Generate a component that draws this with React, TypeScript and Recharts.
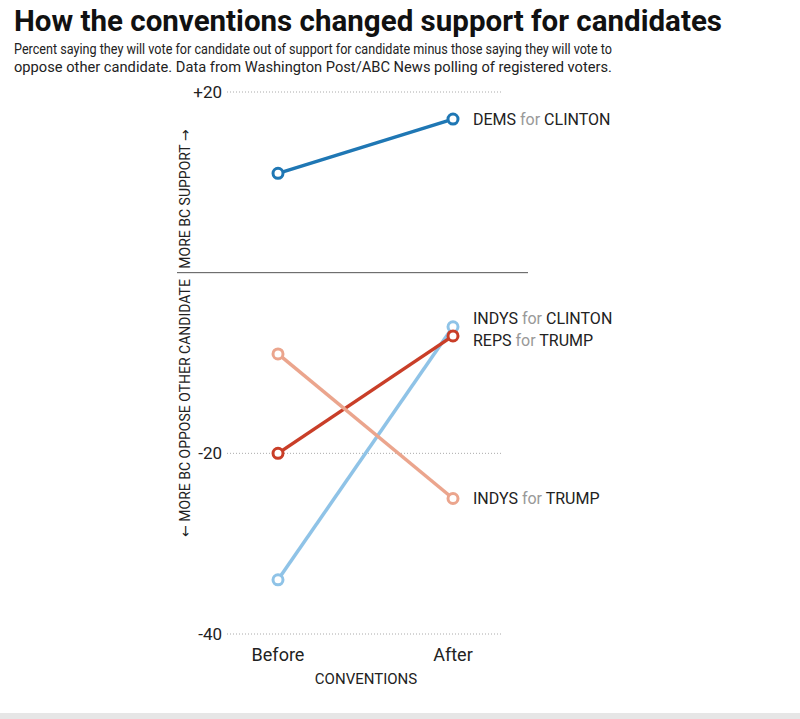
import { LineChart, Line, XAxis, YAxis, CartesianGrid, ReferenceLine, LabelList, Customized } from "recharts";

const phases = ["Before", "After"];
const demsClinton = [11, 17];
const indysClinton = [-34, -6];
const repsTrump = [-20, -7];
const indysTrump = [-9, -25];
const yTicks = [20, -20, -40];

const series = [
  { key: "demsClinton", values: demsClinton, group: "DEMS", cand: "CLINTON", color: "#1f77b4", dy: 0 },
  { key: "indysClinton", values: indysClinton, group: "INDYS", cand: "CLINTON", color: "#8fc3e7", dy: -8 },
  { key: "repsTrump", values: repsTrump, group: "REPS", cand: "TRUMP", color: "#c93e28", dy: 4 },
  { key: "indysTrump", values: indysTrump, group: "INDYS", cand: "TRUMP", color: "#eba58d", dy: 0 },
];

const rows = phases.map((p, i) => {
  const r: any = { phase: p };
  series.forEach((s) => (r[s.key] = s.values[i]));
  return r;
});

const chartFont = "Roboto, 'Noto Sans', sans-serif";
const arrowFont = "'DejaVu Sans', sans-serif";

const endLabel = (s: any) => (props: any) => {
  if (props.index !== 1) return null;
  return (
    <text x={props.x + 20} y={props.y + s.dy} dy="0.35em" fontSize={16} fontFamily={chartFont} fill="#222">
      {s.group}
      <tspan fill="#999"> for </tspan>
      {s.cand}
    </text>
  );
};

// rotated labels along the left edge
const SideLabels = () => (
  <g fontFamily={chartFont} fontSize={14} fill="#222">
    <text x={190} y={199} transform="rotate(-90 190 199)" textAnchor="middle">
      MORE BC SUPPORT <tspan fontFamily={arrowFont}>→</tspan>
    </text>
    <text x={190} y={408} transform="rotate(-90 190 408)" textAnchor="middle">
      <tspan fontFamily={arrowFont}>←</tspan> MORE BC OPPOSE OTHER CANDIDATE
    </text>
  </g>
);

export default function App() {
  return (
    <div style={{ position: "absolute", left: 0, top: 0, width: 800, height: 719, background: "#fff", overflow: "hidden" }}>
      <svg width={800} height={80} style={{ position: "absolute", left: 0, top: 0 }}>
        <text x={14} y={31} fontFamily={chartFont} fontWeight={700} fontSize={30} fill="#111" textLength={708} lengthAdjust="spacingAndGlyphs">
          How the conventions changed support for candidates
        </text>
        <g fontFamily={chartFont} fontSize={14} fill="#222">
          <text x={14} y={54} textLength={598} lengthAdjust="spacingAndGlyphs">
            Percent saying they will vote for candidate out of support for candidate minus those saying they will vote to
          </text>
          <text x={14} y={72} textLength={598} lengthAdjust="spacingAndGlyphs">
            oppose other candidate. Data from Washington Post/ABC News polling of registered voters.
          </text>
        </g>
      </svg>
      <div style={{ position: "absolute", left: 0, top: 0 }}>
        <LineChart width={800} height={719} data={rows} margin={{ top: 92, right: 297, bottom: 55, left: 177 }}>
          <CartesianGrid vertical={false} stroke="#aaa" strokeDasharray="1 2" />
          <XAxis
            dataKey="phase"
            padding={{ left: 51, right: 50 }}
            axisLine={false}
            tickLine={false}
            tickSize={0}
            tickMargin={14}
            height={30}
            tick={{ fontSize: 18, fill: "#222", fontFamily: chartFont }}
          />
          <YAxis
            type="number"
            domain={[-40, 20]}
            ticks={yTicks}
            width={50}
            axisLine={false}
            tickLine={false}
            tickSize={0}
            tickMargin={5}
            tickFormatter={(v: number) => (v > 0 ? `+${v}` : `${v}`)}
            tick={{ fontSize: 17, fill: "#222", fontFamily: chartFont }}
          />
          <ReferenceLine
            y={0}
            stroke="#555"
            shape={(p: any) => <line x1={p.x1 - 50} x2={p.x2 + 25} y1={p.y1} y2={p.y2} stroke="#555" strokeWidth={1} />}
          />
          {series.map((s) => (
            <Line
              key={s.key}
              dataKey={s.key}
              stroke={s.color}
              strokeWidth={3.5}
              dot={{ r: 5, fill: "#fff", stroke: s.color, strokeWidth: 3 }}
              isAnimationActive={false}
            >
              <LabelList dataKey={s.key} content={endLabel(s)} />
            </Line>
          ))}
          <Customized component={SideLabels} />
        </LineChart>
      </div>
      <div style={{ position: "absolute", left: 366, top: 670, transform: "translateX(-50%)", fontFamily: chartFont, fontSize: 15, color: "#222" }}>
        CONVENTIONS
      </div>
      <div style={{ position: "absolute", left: 0, top: 713, width: 800, height: 6, background: "#e6e6e6" }} />
    </div>
  );
}
